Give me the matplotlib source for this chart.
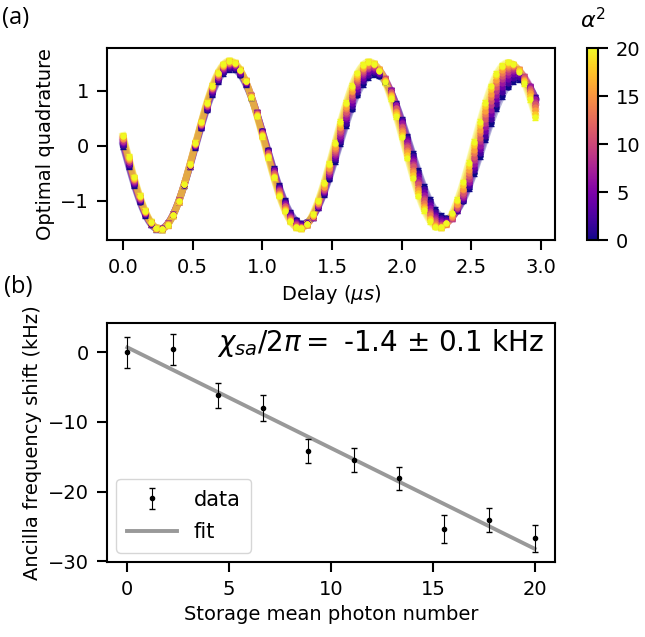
import numpy as np
import matplotlib
matplotlib.use("Agg")
import matplotlib.pyplot as plt

plt.rcParams["font.family"] = ["DejaVu Sans"]
plt.rcParams["axes.linewidth"] = 1.5
for ax_name in ["xtick", "ytick"]:
    plt.rcParams[ax_name + ".major.size"] = 7
    plt.rcParams[ax_name + ".major.width"] = 1.5
    plt.rcParams[ax_name + ".major.pad"] = 6

# photon numbers (alpha^2) of the measured traces
alpha2 = [0.0, 2.22, 4.44, 6.67, 8.89, 11.11, 13.33, 15.56, 17.78, 20.0]

# fitted parameters per trace
amp = [1.52, 1.52, 1.52, 1.53, 1.53, 1.53, 1.53, 1.54, 1.54, 1.54]
freq = [0.970, 0.973, 0.977, 0.980, 0.984, 0.987, 0.991, 0.994, 0.998, 1.001]  # MHz
phase = [-0.02, -0.03, -0.04, -0.05, -0.06, -0.07, -0.08, -0.09, -0.10, -0.11]  # rad
decay = [14.0, 16.0, 20.0, 25.0, 30.0, 40.0, 50.0, 60.0, 80.0, 100.0]  # us
offset = [-0.03, -0.02, -0.01, 0.0, 0.0, 0.01, 0.01, 0.01, 0.02, 0.02]
qerr = 0.05

# panel (b) data
n_mean = [0.0, 2.22, 4.44, 6.67, 8.89, 11.11, 13.33, 15.56, 17.78, 20.0]
shift = [0.0, 0.4, -6.2, -8.0, -14.2, -15.5, -18.1, -25.4, -24.1, -26.7]
shift_err = [2.2, 2.2, 1.8, 1.8, 1.7, 1.7, 1.6, 2.0, 1.7, 1.9]
fit_slope = -1.445
fit_icpt = 0.7

fig = plt.figure(figsize=(6.45, 6.37), dpi=100)
ax1 = fig.add_axes([107/645, 1 - 240/637, 448/645, 192/637])
cax = fig.add_axes([587/645, 1 - 240/637, 11/645, 192/637])
ax2 = fig.add_axes([107/645, 1 - 562/637, 448/645, 239/637])

cmap = plt.get_cmap("plasma")
norm = matplotlib.colors.Normalize(0, 20)

delay = np.arange(0, 2.97, 0.04)
tt = np.linspace(0, 2.96, 400)
for a2, A, f, ph, T, off in zip(alpha2, amp, freq, phase, decay, offset):
    c = cmap(norm(a2))
    model = lambda t: -A * np.exp(-t / T) * np.sin(2 * np.pi * f * t + ph) + off
    ax1.plot(tt, model(tt), color=c, lw=5, alpha=0.3, zorder=1)
    ax1.errorbar(delay, model(delay), yerr=qerr, fmt="o", ms=3.5, color=c, capsize=2,
                 elinewidth=1, zorder=2)

ax1.set_xlim(-0.115, 3.1)
ax1.set_ylim(-1.71, 1.78)
ax1.set_yticks([-1, 0, 1])
ax1.set_xticks([0, 0.5, 1.0, 1.5, 2.0, 2.5, 3.0])
ax1.set_xlabel(r"Delay ($\mu s$)", fontsize=14)
ax1.set_ylabel("Optimal quadrature", fontsize=14)
ax1.tick_params(labelsize=14)

sm = matplotlib.cm.ScalarMappable(norm=norm, cmap=cmap)
cb = fig.colorbar(sm, cax=cax, ticks=[0, 5, 10, 15, 20])
cb.ax.tick_params(labelsize=14)
cb.outline.set_linewidth(1.5)
cax.set_title(r"$\alpha^2$", fontsize=16, pad=14)

h_data = ax2.errorbar(n_mean, shift, yerr=shift_err, fmt="o", ms=3, color="black",
                      ecolor="black", elinewidth=0.8, capsize=2.5, zorder=3)
xs = np.array([n_mean[0], n_mean[-1]])
h_fit, = ax2.plot(xs, fit_slope * xs + fit_icpt, color="gray", lw=2.8, alpha=0.8, zorder=2)
ax2.set_ylim(-30.1, 4.2)
ax2.set_yticks([0, -10, -20, -30])
ax2.set_xticks([0, 5, 10, 15, 20])
ax2.set_xlabel("Storage mean photon number", fontsize=14)
ax2.set_ylabel("Ancilla frequency shift (kHz)", fontsize=14)
ax2.tick_params(labelsize=14)
ax2.text(0.975, 0.915, r"$\chi_{sa}/2\pi=$ -1.4 $\pm$ 0.1 kHz", transform=ax2.transAxes,
         ha="right", va="center", fontsize=20)
ax2.legend([h_data, h_fit], ["data", "fit"], loc="lower left", fontsize=15,
           handlelength=2.4, labelspacing=0.6, borderpad=0.5, borderaxespad=0.45)

fig.text(2/645, 1 - 18/637, "(a)", fontsize=17, family="Open Sans", va="center")
fig.text(4/645, 1 - 287/637, "(b)", fontsize=17, family="Open Sans", va="center")

fig.savefig("out.png", dpi=100)
